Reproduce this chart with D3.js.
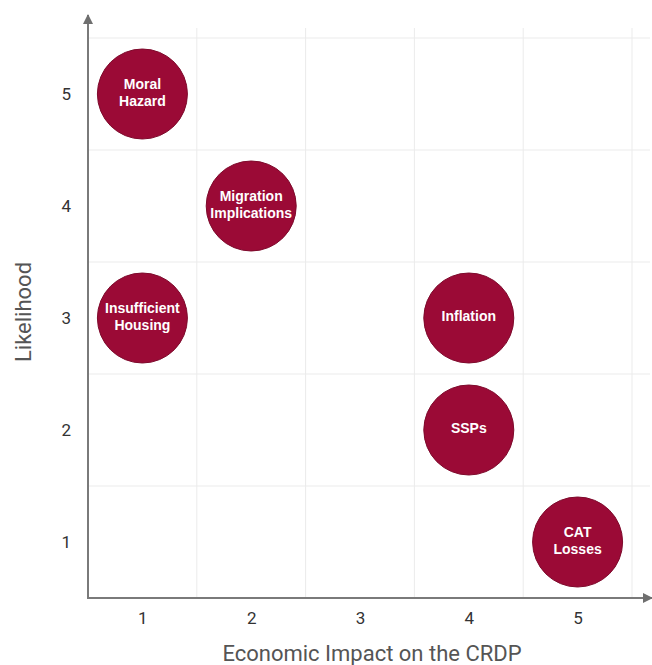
<!DOCTYPE html>
<html>
<head>
<meta charset="utf-8">
<script src="https://cdn.jsdelivr.net/npm/d3@7"></script>
<style>
  html, body { margin: 0; padding: 0; background: #fff; }
  svg { display: block; }
</style>
</head>
<body>
<svg id="chart" width="652" height="665"></svg>
<script>
// Risk matrix: economic impact (x) vs likelihood (y)
const risks = ["Moral Hazard", "Migration Implications", "Insufficient Housing", "Inflation", "SSPs", "CAT Losses"];
const labelLines = [["Moral", "Hazard"], ["Migration", "Implications"], ["Insufficient", "Housing"], ["Inflation"], ["SSPs"], ["CAT", "Losses"]];
const impact = [1, 2, 1, 4, 4, 5];
const likelihood = [5, 4, 3, 3, 2, 1];
const tickValues = [1, 2, 3, 4, 5];
const gridValues = [1.5, 2.5, 3.5, 4.5, 5.5];

const svg = d3.select("#chart");

const x = d3.scaleLinear().domain([0.5, 5.5]).range([88, 632]);
const y = d3.scaleLinear().domain([0.5, 5.5]).range([598, 38]);

// grid
const grid = svg.append("g").attr("stroke", "#ebebeb").attr("stroke-width", 1);
grid.selectAll("line.v").data(gridValues).join("line")
  .attr("x1", d => x(d)).attr("x2", d => x(d))
  .attr("y1", y(5.5) - 10).attr("y2", y(0.5));
grid.selectAll("line.h").data(gridValues).join("line")
  .attr("y1", d => y(d)).attr("y2", d => y(d))
  .attr("x1", x(0.5)).attr("x2", 650);

// axes with arrow heads
const defs = svg.append("defs");
defs.append("marker").attr("id", "arrow")
  .attr("viewBox", "0 0 10 10").attr("refX", 9).attr("refY", 5)
  .attr("markerWidth", 5).attr("markerHeight", 5).attr("orient", "auto")
  .append("path").attr("d", "M0,0 L10,5 L0,10 Z").attr("fill", "#6f6f6f");

svg.append("line")
  .attr("x1", x(0.5)).attr("y1", y(0.5)).attr("x2", x(0.5)).attr("y2", 15)
  .attr("stroke", "#7a7a7a").attr("stroke-width", 2).attr("marker-end", "url(#arrow)");
svg.append("line")
  .attr("x1", x(0.5) - 1).attr("y1", y(0.5)).attr("x2", 652).attr("y2", y(0.5))
  .attr("stroke", "#7a7a7a").attr("stroke-width", 2).attr("marker-end", "url(#arrow)");

// tick labels
const xAxis = d3.axisBottom(x).tickValues(tickValues).tickFormat(d3.format("d")).tickSize(0).tickPadding(14);
svg.append("g").attr("transform", `translate(0,${y(0.5)})`).call(xAxis)
  .call(g => g.select(".domain").remove())
  .call(g => g.selectAll("text").attr("font-family", "Roboto, sans-serif").attr("font-size", 17).attr("fill", "#333"));

const yAxis = d3.axisLeft(y).tickValues(tickValues).tickFormat(d3.format("d")).tickSize(0).tickPadding(17);
svg.append("g").attr("transform", `translate(${x(0.5)},0)`).call(yAxis)
  .call(g => g.select(".domain").remove())
  .call(g => g.selectAll("text").attr("font-family", "Roboto, sans-serif").attr("font-size", 17).attr("fill", "#333"));

// axis titles
svg.append("text")
  .attr("x", 372).attr("y", 661)
  .attr("text-anchor", "middle")
  .attr("font-family", "Roboto, sans-serif").attr("font-size", 22).attr("fill", "#555")
  .text("Economic Impact on the CRDP");
svg.append("text")
  .attr("transform", "translate(31,312) rotate(-90)")
  .attr("text-anchor", "middle")
  .attr("font-family", "Roboto, sans-serif").attr("font-size", 22).attr("fill", "#555")
  .text("Likelihood");

// bubbles
const data = risks.map((name, i) => ({ name, lines: labelLines[i], impact: impact[i], likelihood: likelihood[i] }));
const nodes = svg.append("g").selectAll("g").data(data).join("g")
  .attr("transform", d => `translate(${x(d.impact)},${y(d.likelihood)})`);
nodes.append("circle")
  .attr("r", 45)
  .attr("fill", "#9b0a36")
  .attr("stroke", "#7e0a2c").attr("stroke-width", 1);
nodes.append("text")
  .attr("text-anchor", "middle")
  .attr("font-family", "'Liberation Sans', Arial, sans-serif").attr("font-weight", "bold")
  .attr("font-size", 14).attr("fill", "#fff")
  .selectAll("tspan").data(d => d.lines.map((t, i) => ({ t, i, n: d.lines.length }))).join("tspan")
  .attr("x", 0)
  .attr("y", d => (d.i - (d.n - 1) / 2) * 17 + 3)
  .text(d => d.t);
</script>
</body>
</html>
